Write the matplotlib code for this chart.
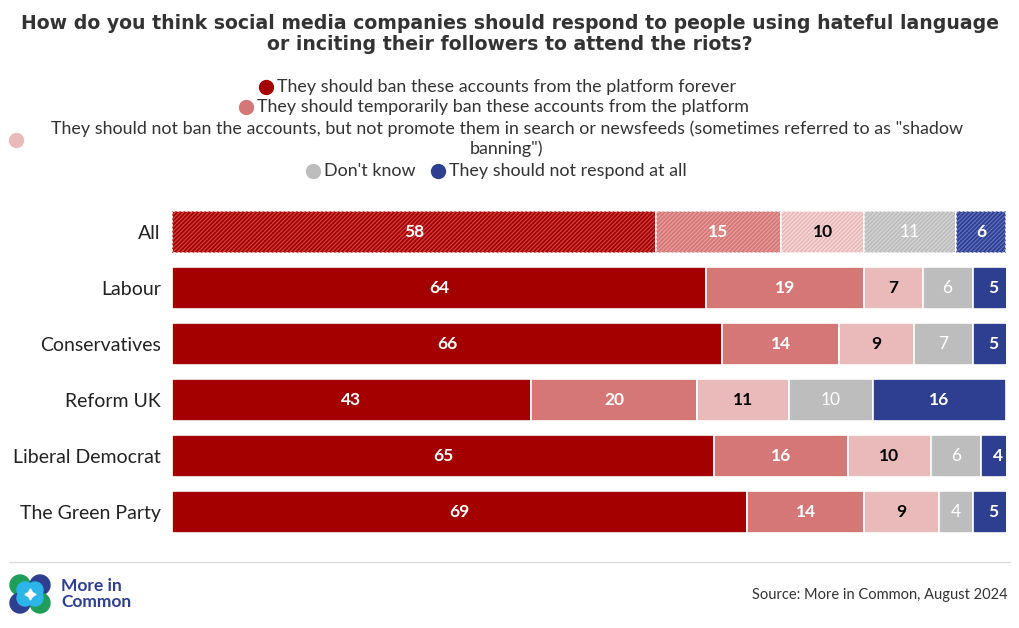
import matplotlib
matplotlib.use("Agg")
import matplotlib.pyplot as plt
from matplotlib.patches import Circle
import numpy as np

categories = ["All", "Labour", "Conservatives", "Reform UK", "Liberal Democrat", "The Green Party"]
series_names = [
    "They should ban these accounts from the platform forever",
    "They should temporarily ban these accounts from the platform",
    "They should not ban the accounts, but not promote them in search or newsfeeds (sometimes referred to as \"shadow\nbanning\")",
    "Don't know",
    "They should not respond at all",
]
ban_forever = [58, 64, 66, 43, 65, 69]
ban_temp = [15, 19, 14, 20, 16, 14]
shadow_ban = [10, 7, 9, 11, 10, 9]
dont_know = [11, 6, 7, 10, 6, 4]
not_respond = [6, 5, 5, 16, 4, 5]
series = [ban_forever, ban_temp, shadow_ban, dont_know, not_respond]

colors = ["#A50000", "#D67777", "#EAB9B9", "#BDBDBD", "#2E3F92"]
hatch_colors = ["#D24848", "#E9A0A0", "#F6DCDC", "#D6D6D6", "#6474BE"]
label_colors = ["white", "white", "black", "white", "white"]

plt.rcParams['font.family'] = ['Lato', 'DejaVu Sans']
plt.rcParams['hatch.linewidth'] = 0.8
fig = plt.figure(figsize=(10.2, 6.28), dpi=100)
ax = fig.add_axes([172/1020, 1-540/628, (1006-172)/1020, (540-204)/628])

y = np.arange(len(categories))
left = np.zeros(len(categories))
for si, vals in enumerate(series):
    vals = np.array(vals, dtype=float)
    for i in range(len(categories)):
        ax.barh(y[i], vals[i], left=left[i], height=0.75, color=colors[si],
                edgecolor="white", linewidth=1.2)
        if i == 0:
            ax.barh(y[i], vals[i], left=left[i], height=0.75, color="none",
                    edgecolor=hatch_colors[si], hatch="////////", linewidth=0)
        ax.text(left[i] + vals[i]/2, y[i], f"{int(vals[i])}", ha="center", va="center",
                color=label_colors[si], fontsize=12.5, fontweight="bold" if si != 3 else "normal")
    left += vals

ax.set_xlim(0, 100)
ax.set_ylim(len(categories)-0.5, -0.5)
ax.set_yticks(y)
ax.set_yticklabels(categories, fontsize=14, color="#222222")
ax.tick_params(axis="y", length=0, pad=8)
ax.set_xticks([])
for s in ax.spines.values():
    s.set_visible(False)

fig.text(0.5, 1-34/628, "How do you think social media companies should respond to people using hateful language\nor inciting their followers to attend the riots?",
         ha="center", va="center", fontsize=13.6, fontweight="bold", color="#333333", linespacing=1.15,
         family=['DejaVu Sans'])

leg_kw = dict(fontsize=12.9, color="#333333", va="center")
fig.text(277/1020, 1-87/628, series_names[0], ha="left", **leg_kw)
fig.text(257/1020, 1-107/628, series_names[1], ha="left", **leg_kw)
fig.text(507/1020, 1-139/628, series_names[2], ha="center", linespacing=1.25, **leg_kw)
fig.text(324/1020, 1-171/628, series_names[3], ha="left", **leg_kw)
fig.text(449/1020, 1-171/628, series_names[4], ha="left", **leg_kw)
marker_pos = [(266, 87), (246, 107), (16, 140), (313, 171), (438, 171)]
for (mx, my), c in zip(marker_pos, colors):
    fig.add_artist(plt.Line2D([mx/1020], [1-my/628], marker="o", markersize=10,
                              color=c, linestyle="none", transform=fig.transFigure))

fig.add_artist(plt.Line2D([10/1020, 1010/1020], [1-562/628, 1-562/628], color="#DDDDDD",
                          linewidth=1, transform=fig.transFigure))
fig.text(1008/1020, 1-595/628, "Source: More in Common, August 2024", ha="right", va="center",
         fontsize=10.5, color="#333333")

lax = fig.add_axes([0, 0, 1, 1], facecolor="none")
lax.set_xlim(0, 1020)
lax.set_ylim(628, 0)
lax.axis("off")
for (cx, cy), c in zip([(20, 585), (40, 585), (20, 603), (40, 603)],
                       ["#1E9E5A", "#2E3F92", "#2E3F92", "#1E9E5A"]):
    lax.add_patch(Circle((cx, cy), 10, color=c))
for (cx, cy) in [(25, 590), (35, 590), (25, 598), (35, 598)]:
    lax.add_patch(Circle((cx, cy), 8, color="#2BB5E8"))
lax.plot([30], [594], marker=(4, 1, 0), markersize=8, color="white")
lax.text(61, 594, "More in\nCommon", ha="left", va="center", fontsize=12.5, fontweight="bold",
         color="#2E3F92", linespacing=1.0)

fig.savefig("out.png", dpi=100, facecolor="white")
